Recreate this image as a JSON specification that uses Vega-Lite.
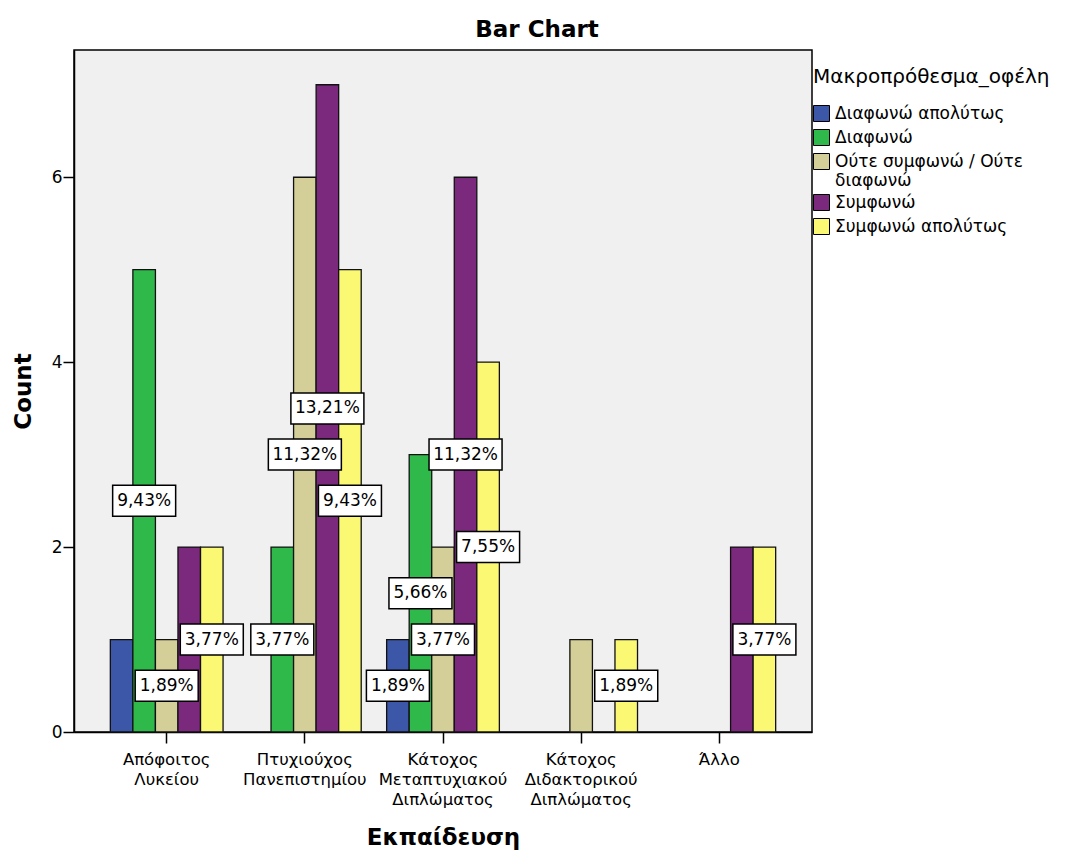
{
  "$schema": "https://vega.github.io/schema/vega-lite/v6.json",
  "autosize": {"type": "none"},
  "padding": {"left": 74, "top": 50, "right": 260, "bottom": 118},
  "width": 738,
  "height": 682,
  "background": "white",
  "title": {
    "text": "Bar Chart",
    "font": "DejaVu Sans",
    "fontSize": 23,
    "fontWeight": "bold",
    "color": "black",
    "anchor": "middle",
    "frame": "group",
    "dx": 94,
    "dy": 23,
    "baseline": "alphabetic",
    "offset": 13
  },
  "config": {
    "font": "DejaVu Sans",
    "view": {"fill": "#f0f0f0", "stroke": "black", "strokeWidth": 1.5}
  },
  "data": {
    "values": [
      {"edu": "Απόφοιτος Λυκείου", "resp": "Διαφωνώ απολύτως", "count": 1, "label": null},
      {"edu": "Απόφοιτος Λυκείου", "resp": "Διαφωνώ", "count": 5, "label": "9,43%"},
      {"edu": "Απόφοιτος Λυκείου", "resp": "Ούτε συμφωνώ / Ούτε διαφωνώ", "count": 1, "label": "1,89%"},
      {"edu": "Απόφοιτος Λυκείου", "resp": "Συμφωνώ", "count": 2, "label": null},
      {"edu": "Απόφοιτος Λυκείου", "resp": "Συμφωνώ απολύτως", "count": 2, "label": "3,77%"},
      {"edu": "Πτυχιούχος Πανεπιστημίου", "resp": "Διαφωνώ", "count": 2, "label": "3,77%"},
      {"edu": "Πτυχιούχος Πανεπιστημίου", "resp": "Ούτε συμφωνώ / Ούτε διαφωνώ", "count": 6, "label": "11,32%"},
      {"edu": "Πτυχιούχος Πανεπιστημίου", "resp": "Συμφωνώ", "count": 7, "label": "13,21%"},
      {"edu": "Πτυχιούχος Πανεπιστημίου", "resp": "Συμφωνώ απολύτως", "count": 5, "label": "9,43%"},
      {"edu": "Κάτοχος Μεταπτυχιακού Διπλώματος", "resp": "Διαφωνώ απολύτως", "count": 1, "label": "1,89%"},
      {"edu": "Κάτοχος Μεταπτυχιακού Διπλώματος", "resp": "Διαφωνώ", "count": 3, "label": "5,66%"},
      {"edu": "Κάτοχος Μεταπτυχιακού Διπλώματος", "resp": "Ούτε συμφωνώ / Ούτε διαφωνώ", "count": 2, "label": "3,77%"},
      {"edu": "Κάτοχος Μεταπτυχιακού Διπλώματος", "resp": "Συμφωνώ", "count": 6, "label": "11,32%"},
      {"edu": "Κάτοχος Μεταπτυχιακού Διπλώματος", "resp": "Συμφωνώ απολύτως", "count": 4, "label": "7,55%"},
      {"edu": "Κάτοχος Διδακτορικού Διπλώματος", "resp": "Ούτε συμφωνώ / Ούτε διαφωνώ", "count": 1, "label": null},
      {"edu": "Κάτοχος Διδακτορικού Διπλώματος", "resp": "Συμφωνώ απολύτως", "count": 1, "label": "1,89%"},
      {"edu": "Άλλο", "resp": "Συμφωνώ", "count": 2, "label": null},
      {"edu": "Άλλο", "resp": "Συμφωνώ απολύτως", "count": 2, "label": "3,77%"}
    ]
  },
  "encoding": {
    "x": {
      "field": "edu",
      "type": "nominal",
      "sort": ["Απόφοιτος Λυκείου", "Πτυχιούχος Πανεπιστημίου", "Κάτοχος Μεταπτυχιακού Διπλώματος", "Κάτοχος Διδακτορικού Διπλώματος", "Άλλο"],
      "scale": {"paddingInner": 0.184, "paddingOuter": 0.263},
      "axis": {
        "title": "Εκπαίδευση",
        "labelAngle": 0,
        "labelExpr": "split(datum.label, ' ')",
        "labelFont": "DejaVu Sans",
        "labelFontSize": 16.5,
        "labelLineHeight": 20,
        "labelPadding": 8,
        "labelLimit": 200,
        "labelColor": "black",
        "tickSize": 11,
        "tickColor": "black",
        "tickWidth": 1.5,
        "domainColor": "black",
        "domainWidth": 1.5,
        "titleFont": "DejaVu Sans",
        "titleFontSize": 23,
        "titleFontWeight": "bold",
        "titleColor": "black",
        "titlePadding": 19
      }
    },
    "xOffset": {
      "field": "resp",
      "type": "nominal",
      "scale": {
        "domain": ["Διαφωνώ απολύτως", "Διαφωνώ", "Ούτε συμφωνώ / Ούτε διαφωνώ", "Συμφωνώ", "Συμφωνώ απολύτως"],
        "paddingInner": 0,
        "paddingOuter": 0
      }
    }
  },
  "layer": [
    {
      "mark": {"type": "bar", "stroke": "#111111", "strokeWidth": 1.3},
      "encoding": {
        "y": {
          "field": "count",
          "type": "quantitative",
          "scale": {"domain": [0, 7.376], "nice": false, "zero": true},
          "axis": {
            "title": "Count",
            "values": [0, 2, 4, 6],
            "format": "d",
            "grid": false,
            "domainColor": "black",
            "domainWidth": 1.5,
            "tickSize": 11,
            "tickColor": "black",
            "tickWidth": 1.5,
            "labelFont": "DejaVu Sans",
            "labelFontSize": 17,
            "labelColor": "black",
            "labelPadding": 1,
            "titleFont": "DejaVu Sans",
            "titleFontSize": 23,
            "titleFontWeight": "bold",
            "titleColor": "black",
            "titlePadding": 16
          }
        },
        "color": {
          "field": "resp",
          "type": "nominal",
          "scale": {
            "domain": ["Διαφωνώ απολύτως", "Διαφωνώ", "Ούτε συμφωνώ / Ούτε διαφωνώ", "Συμφωνώ", "Συμφωνώ απολύτως"],
            "range": ["#3c57a7", "#30b94b", "#d4cf98", "#7b297c", "#fbf874"]
          },
          "legend": {
            "title": "Μακροπρόθεσμα_οφέλη",
            "orient": "none",
            "legendX": 739,
            "legendY": 17,
            "padding": 0,
            "titleFont": "DejaVu Sans",
            "titleFontSize": 20,
            "titleFontWeight": "normal",
            "titleColor": "black",
            "titleLimit": 320,
            "titlePadding": 18,
            "labelFont": "DejaVu Sans",
            "labelFontSize": 17,
            "labelColor": "black",
            "labelLimit": 300,
            "labelOffset": 5,
            "labelExpr": "datum.label == 'Ούτε συμφωνώ / Ούτε διαφωνώ' ? ['Ούτε συμφωνώ / Ούτε', 'διαφωνώ'] : datum.label",
            "symbolType": "square",
            "symbolSize": 256,
            "symbolStrokeColor": "black",
            "symbolStrokeWidth": 1,
            "rowPadding": 3
          }
        }
      }
    },
    {
      "transform": [
        {"filter": "datum.label != null"},
        {"calculate": "datum.count / 2", "as": "mid"},
        {"calculate": "length(datum.label)", "as": "chars"}
      ],
      "mark": {"type": "point", "filled": true, "fill": "white", "stroke": "black", "strokeWidth": 1.5, "size": 3969, "opacity": 1},
      "encoding": {
        "y": {"field": "mid", "type": "quantitative", "title": "Count"},
        "shape": {
          "field": "chars",
          "type": "ordinal",
          "scale": {
            "domain": [5, 6],
            "range": ["M-1,-0.492L1,-0.492L1,0.492L-1,0.492Z", "M-1.159,-0.492L1.159,-0.492L1.159,0.492L-1.159,0.492Z"]
          },
          "legend": null
        }
      }
    },
    {
      "transform": [
        {"filter": "datum.label != null"},
        {"calculate": "datum.count / 2", "as": "mid"}
      ],
      "mark": {"type": "text", "font": "DejaVu Sans", "fontSize": 17, "color": "black", "baseline": "middle", "align": "center"},
      "encoding": {
        "y": {"field": "mid", "type": "quantitative", "title": "Count"},
        "text": {"field": "label"}
      }
    }
  ]
}
